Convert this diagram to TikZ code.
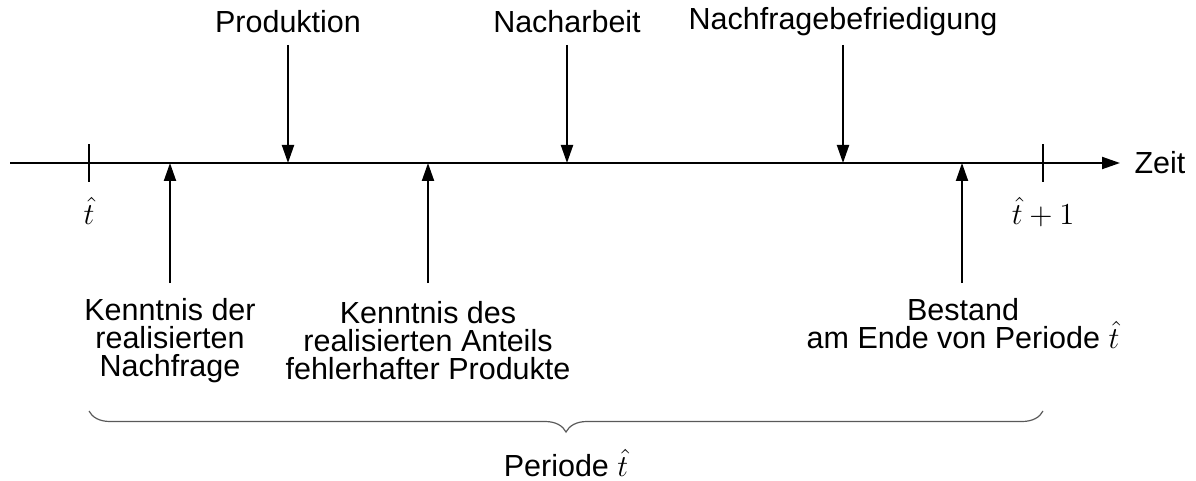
\documentclass[tikz,border=0pt]{standalone}
\usepackage{fontspec}
\setmainfont{Liberation Sans}
\usetikzlibrary{arrows.meta,decorations.pathreplacing}
\begin{document}
\begin{tikzpicture}[x=1pt,y=-1pt,
  lbl/.style={inner sep=0pt,align=center,font=\fontsize{12}{11.02}\selectfont,scale=2.5417},
  evarrow/.style={line width=2pt,-{Triangle[length=18pt,width=12pt]}},
  tick/.style={line width=2pt},
  axisline/.style={line width=2pt,-{Triangle[length=18pt,width=12pt]}},
  periodbrace/.style={draw=black!65,line width=1.2pt,decorate,
    decoration={brace,mirror,amplitude=21pt}}]
\useasboundingbox (0,0) rectangle (1196,481);

% time axis
\coordinate (start) at (10,163);
\coordinate (tip) at (1120,163);
\draw[axisline] (start) -- (tip);
\node[lbl,anchor=west] (zeit) at (1134,163) {Zeit};

% period boundaries
\coordinate (t0) at (89,163);
\coordinate (t1) at (1043,163);
\draw[tick] ([yshift=-19pt]t0) -- ([yshift=19pt]t0);
\draw[tick] ([yshift=-19pt]t1) -- ([yshift=19pt]t1);
\node[lbl] (t0lbl) at (89,211) {$\hat{t}$};
\node[lbl] (t1lbl) at (1043,212) {$\hat{t}+1$};

% events from above
\coordinate (prodtop) at (288,45);  \coordinate (prodax) at (288,163);
\coordinate (nachtop) at (567,45);  \coordinate (nachax) at (567,163);
\coordinate (befrtop) at (843,45);  \coordinate (befrax) at (843,163);
\node[lbl] (prod) at (288,22) {Produktion};
\node[lbl] (nach) at (567,22) {Nacharbeit};
\node[lbl] (befr) at (843,22) {Nachfragebefriedigung};
\draw[evarrow] (prodtop) -- (prodax);
\draw[evarrow] (nachtop) -- (nachax);
\draw[evarrow] (befrtop) -- (befrax);

% information from below
\coordinate (nfbot) at (170,283);   \coordinate (nfax) at (170,163);
\coordinate (antbot) at (428,283);  \coordinate (antax) at (428,163);
\coordinate (bestbot) at (962,283); \coordinate (bestax) at (962,163);
\draw[evarrow] (nfbot) -- (nfax);
\draw[evarrow] (antbot) -- (antax);
\draw[evarrow] (bestbot) -- (bestax);
\node[lbl,anchor=north] (nf) at (170,298) {Kenntnis der\\realisierten\\Nachfrage};
\node[lbl,anchor=north] (ant) at (428,301) {Kenntnis des\\realisierten Anteils\\fehlerhafter Produkte};
\node[lbl,anchor=north] (best) at (963,298) {Bestand\\am Ende von Periode $\hat{t}$};

% the period
\draw[periodbrace] (89,411) -- (1043,411);
\node[lbl] (periode) at (566,463) {Periode $\hat{t}$};
\end{tikzpicture}
\end{document}
